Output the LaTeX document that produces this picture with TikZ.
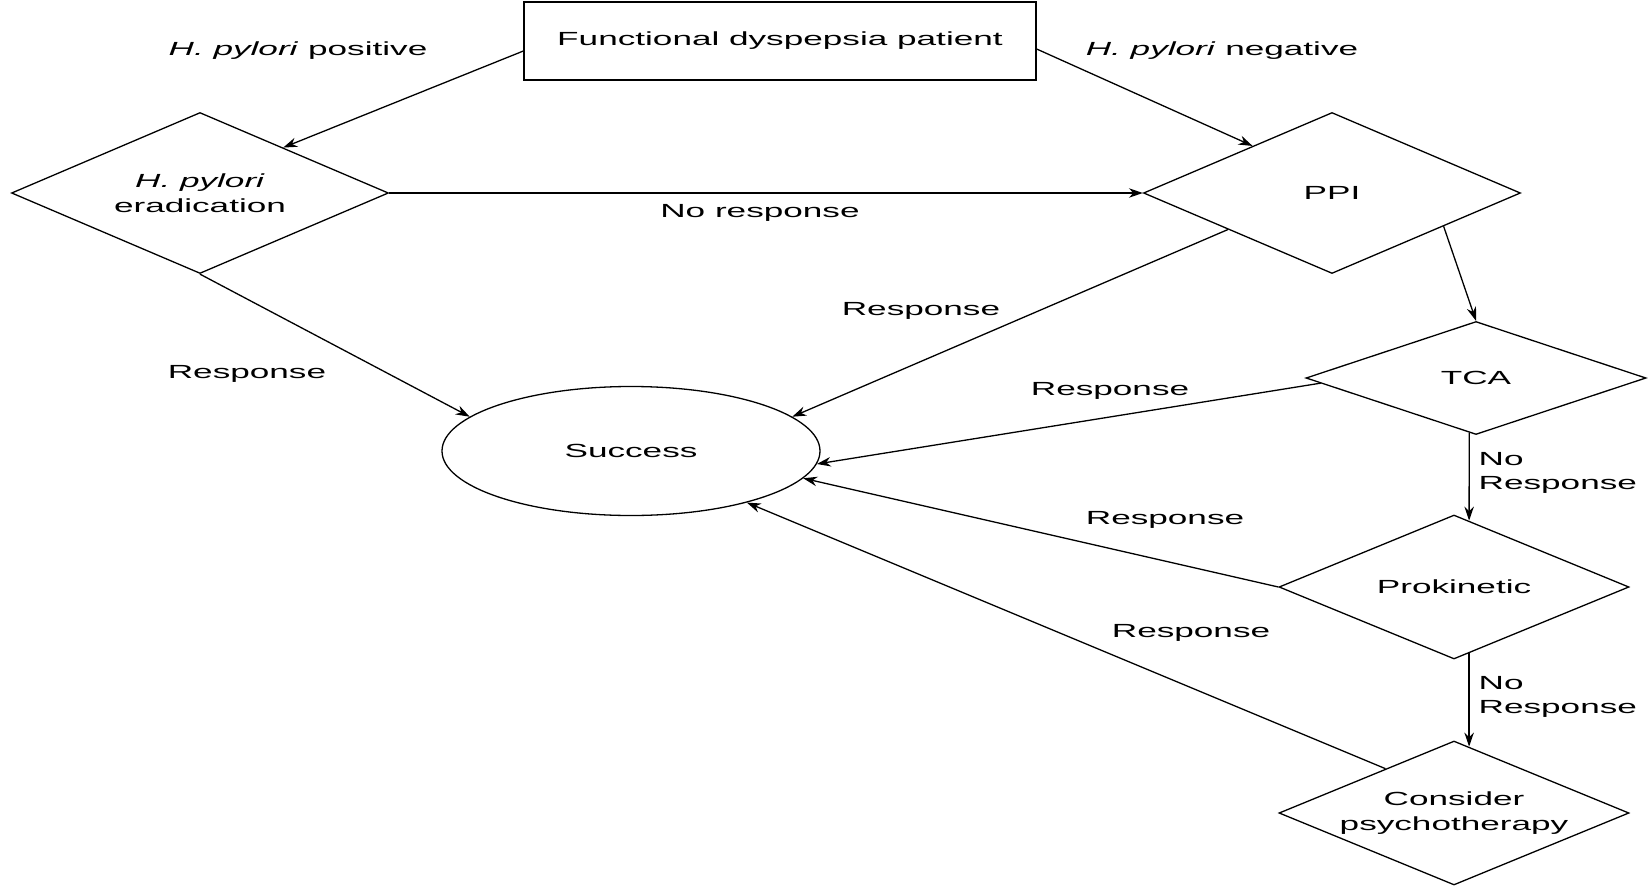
\documentclass[tikz,border=0pt]{standalone}
\usepackage{fontspec}
\setmainfont{Liberation Sans}[FakeStretch=1.85]
\usetikzlibrary{shapes.geometric,arrows.meta,calc}

\begin{document}
\begin{tikzpicture}[x=1pt, y=-1pt, line width=1.3pt,
    every node/.style={inner sep=0pt, font=\fontsize{19}{24.5}\selectfont},
    startbox/.style={draw, rectangle, minimum width=512pt, minimum height=78pt},
    choice/.style={draw, diamond, align=center},
    goal/.style={draw, ellipse, minimum width=378pt, minimum height=129pt},
    arr/.style={-{Stealth[length=14pt, width=9.5pt]}}]

    % Page: 1652 x 886 units, y grows downwards
    \useasboundingbox (0,0) rectangle (1652,886);

    % Treatment steps
    \node[startbox] (patient) at (780,41) {Functional dyspepsia patient};
    \node[choice, minimum width=377pt, minimum height=161pt, aspect=2.34]
        (erad) at (200,193) {\textit{H. pylori}\\eradication};
    \node[choice, minimum width=377pt, minimum height=161pt, aspect=2.34]
        (ppi) at (1332,193) {PPI};
    \node[choice, minimum width=340pt, minimum height=113pt, aspect=3]
        (tca) at (1476,378) {TCA};
    \node[choice, minimum width=350pt, minimum height=144pt, aspect=2.43]
        (prokin) at (1454,587) {Prokinetic};
    \node[choice, minimum width=350pt, minimum height=144pt, aspect=2.43]
        (psycho) at (1454,813) {Consider\\psychotherapy};
    \node[goal] (success) at (631,451) {Success};

    % Arrows between the steps
    \draw[arr] ([yshift=-10pt]patient.west) -- ($(erad.north)!.44!(erad.east)$);
    \draw[arr] ([yshift=-8pt]patient.east) -- ($(ppi.north)!.42!(ppi.west)$);
    \draw[arr] (erad.east) -- (ppi.west);
    \draw[arr] (erad.south) -- (success.168);
    \draw[arr] ($(ppi.west)!.45!(ppi.south)$) -- (success.12);
    \draw[arr] ($(ppi.south)!.59!(ppi.east)$) -- (tca.north);
    \draw[arr] ($(tca.west)!.09!(tca.south)$) -- (success.-4);
    \draw[arr] ($(tca.south)!.04!(tca.west)$) -- ($(prokin.north)!.086!(prokin.east)$);
    \draw[arr] (prokin.west) -- (success.-9.6);
    \draw[arr] ($(prokin.south)!.086!(prokin.east)$) -- ($(psycho.north)!.086!(psycho.east)$);
    \draw[arr] ($(psycho.west)!.61!(psycho.north)$) -- (success.-24);

    % Edge labels
    \node (lblPos)   at (298,51)  {\textit{H. pylori} positive};
    \node (lblNeg)   at (1222,51) {\textit{H. pylori} negative};
    \node (lblNoRes) at (760,213) {No response};
    \node (lblErad)  at (247,374) {Response};
    \node (lblPpi)   at (921,311) {Response};
    \node (lblTca)   at (1110,391) {Response};
    \node (lblPro)   at (1165,520) {Response};
    \node (lblPsy)   at (1191,633) {Response};
    \node[anchor=west, align=left] (lblNoTca) at (1478,473) {No\\Response};
    \node[anchor=west, align=left] (lblNoPro) at (1478,697) {No\\Response};
\end{tikzpicture}
\end{document}
